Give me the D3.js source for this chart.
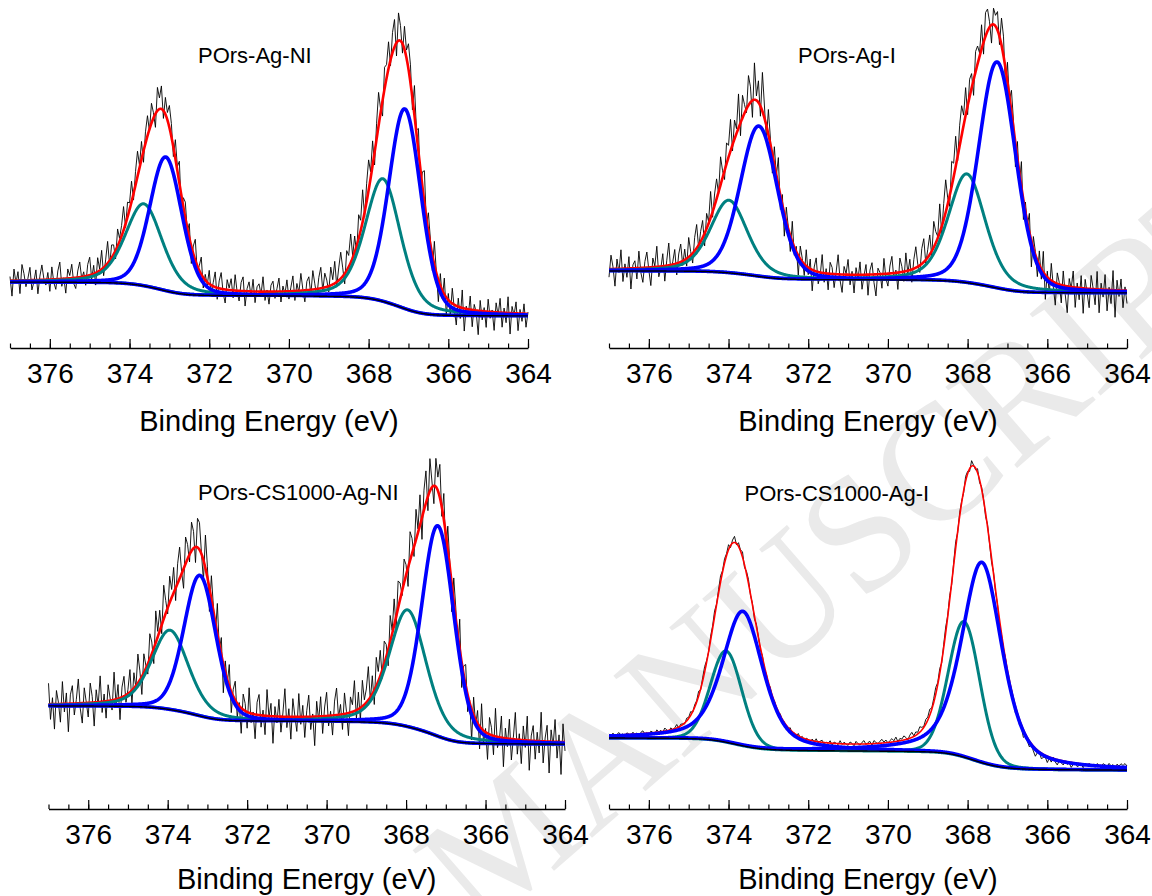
<!DOCTYPE html>
<html><head><meta charset="utf-8">
<script src="https://cdn.jsdelivr.net/npm/d3@7"></script>
<style>body{margin:0;background:#fff}svg{display:block}</style>
</head><body>
<svg id="c" width="1152" height="896"></svg>
<script>
// ---------------- DATA ----------------
const panelTitles = ["POrs-Ag-NI", "POrs-Ag-I", "POrs-CS1000-Ag-NI", "POrs-CS1000-Ag-I"];
const axisTitle = "Binding Energy (eV)";
const xDomain = [377, 364];
const majorTicks = [376, 374, 372, 370, 368, 366, 364];
const minorTicks = [377, 376.5, 376, 375.5, 375, 374.5, 374, 373.5, 373, 372.5, 372, 371.5, 371, 370.5, 370, 369.5, 369, 368.5, 368, 367.5, 367, 366.5, 366, 365.5, 365, 364.5, 364];
const watermark = "MANUSCRIPT";

// Shirley background end levels [high-BE side, low-BE side] (a.u.)
const bgLevels = [[19.5, 9.5], [22.8, 16.3], [30.5, 19.2], [21.0, 11.5]];

// fitted components per panel: [Ag 3d3/2 (teal), Ag 3d3/2 (blue), Ag 3d5/2 (teal), Ag 3d5/2 (blue)]
const peakCenters = [
  [373.64, 373.09, 367.64, 367.09],
  [373.99, 373.24, 368.02, 367.26],
  [373.94, 373.19, 367.96, 367.20],
  [374.06, 373.64, 368.09, 367.64]
];
const peakHeights = [
  [24.3, 39.6, 36.3, 59.1],
  [21.5, 44.5, 32.2, 66.9],
  [23.5, 41.6, 34.6, 62.3],
  [27.0, 39.8, 40.1, 59.3]
];
const peakFwhm = [
  [1.1, 0.95, 1.05, 0.95],
  [1.1, 1.1, 1.1, 1.1],
  [1.1, 0.95, 1.1, 0.95],
  [0.93, 1.2, 0.93, 1.2]
];
const peakLorentz = [
  [0.4, 0.2, 0.4, 0.2],
  [0.4, 0.2, 0.4, 0.2],
  [0.4, 0.2, 0.4, 0.2],
  [0.1, 0.5, 0.1, 0.5]
];

// raw spectra: residuals (a.u.) from the fit envelope, 377 -> 364 eV in 0.05 eV steps
const rawStart = 377, rawStep = 0.05;
const rawResid1 = [
 1.2,-4.6,3.4,-0.8,2.6,-3.9,4.7,2.0,-1.9,0.6,3.8,-2.9,-0.5,3.0,-4.1,1.1,4.4,0.3,-1.6,2.1,
 -3.5,3.7,-1.0,-3.0,2.4,5.0,-2.2,0.3,-4.3,2.8,0.8,4.1,-1.7,-3.2,1.9,4.5,-0.6,1.4,-2.7,3.3,
 5.3,-1.3,2.5,-3.6,4.2,0.5,5.6,-2.4,1.7,6.5,-1.4,3.8,2.8,-2.5,5.1,0.9,3.1,7.0,-1.1,4.4,
 2.0,6.1,-1.9,4.0,7.5,0.8,5.3,-3.3,3.4,6.0,-0.6,5.9,1.6,-4.0,6.9,3.3,6.8,-2.3,5.0,2.2,
 6.5,3.9,-2.8,5.6,1.2,6.4,-4.5,2.7,4.7,-0.9,4.2,-5.1,2.3,6.2,-1.9,1.4,5.1,-3.1,1.7,-0.8,
 4.0,-2.5,1.1,4.5,-3.4,2.2,4.8,-1.2,-4.0,3.0,0.6,3.4,-2.2,4.7,-0.3,-3.0,2.5,4.2,-4.4,0.8,
 2.8,-1.6,3.6,-3.3,1.4,2.3,-0.9,4.4,-2.6,0.5,-3.7,1.9,3.1,-2.0,0.9,4.0,-3.1,1.6,-0.8,3.4,
 -2.3,1.2,4.5,-2.8,2.2,-0.5,5.1,0.3,-3.4,2.6,3.9,-1.4,5.6,1.6,-2.2,3.3,6.2,-0.9,4.2,2.0,
 -1.7,5.4,1.4,6.5,-1.2,3.7,7.8,2.5,-3.0,5.9,3.4,8.5,0.5,4.8,-2.3,7.1,3.1,9.5,-1.4,5.3,
 9.0,1.9,7.3,-3.7,4.7,9.9,1.2,-4.6,6.4,4.0,7.9,-1.7,6.0,8.1,-3.9,8.2,4.5,-2.8,6.8,2.3,
 7.5,5.3,-3.4,8.8,0.9,6.7,-5.6,4.3,9.5,-2.0,5.7,1.6,-4.5,7.0,0.3,-6.4,3.6,-2.5,4.8,-5.3,
 1.9,-3.9,4.5,-1.2,-5.7,2.5,-3.3,5.3,-6.7,0.8,-2.2,4.0,-5.0,1.7,-0.5,-7.1,3.1,-2.6,1.1,-4.7,
 3.7,-1.9,0.6,-5.4,2.8,-0.9,4.2,-4.3,1.4,-2.9,4.8,-6.2,2.0,-0.6,3.4,-5.1,1.2,-2.3,2.9,-4.0,
 0.5];
const rawResid2 = [
 -2.4,4.1,0.6,-5.1,2.9,-1.1,5.6,-3.8,1.4,-2.6,3.5,-6.1,1.0,2.2,-3.2,5.0,-1.4,-4.3,1.8,4.6,
 -0.8,-5.4,2.7,0.3,6.1,-3.0,-0.6,3.7,-4.5,1.6,6.6,-1.9,0.8,4.3,-3.4,2.6,5.3,-1.3,3.2,-2.2,
 5.8,1.1,-2.9,4.0,7.0,-1.0,3.0,5.1,-3.7,4.5,0.6,7.8,-1.6,3.4,5.9,-0.5,8.3,2.1,-2.6,6.2,
 3.5,9.3,-1.8,5.6,1.4,10.1,-3.8,6.7,2.6,-1.1,8.8,4.6,-5.0,10.9,1.3,6.4,-3.0,11.5,3.8,-4.3,
 7.4,1.8,-5.6,5.3,-0.3,8.2,-4.2,3.0,-6.7,4.3,0.5,-4.6,6.1,-2.4,1.6,-5.8,3.8,1.0,-3.4,4.8,
 -2.1,2.9,-6.2,1.1,4.0,-3.5,-1.0,5.4,-2.7,1.4,-4.8,3.4,1.9,-4.0,0.6,5.8,-1.8,-5.3,2.4,0.3,
 4.5,-3.0,1.0,-5.4,2.1,-1.3,3.8,-4.3,-0.3,3.0,-6.1,1.3,3.5,-2.4,-6.4,1.8,0.5,-4.2,4.6,-1.4,
 -3.7,2.2,5.0,-1.9,0.8,-5.0,4.2,1.6,-2.9,5.4,-0.8,3.2,-3.8,2.7,6.2,0.6,-2.1,4.5,6.9,-1.0,
 2.4,5.8,-1.4,7.7,3.4,0.5,8.5,-2.2,4.8,9.6,1.9,-3.2,7.4,4.0,9.0,-1.3,6.1,8.8,3.0,8.2,
 -2.6,5.2,4.3,-4.6,6.0,5.3,1.0,7.2,-3.5,7.0,6.5,1.6,-5.4,4.8,3.2,5.5,-2.4,8.0,5.8,-6.1,
 5.8,-1.1,6.4,2.2,-7.0,5.0,-3.2,7.5,-5.8,2.9,-0.8,5.6,-7.7,3.5,1.0,-4.8,4.2,-3.0,6.2,-7.2,
 1.8,-4.3,5.1,-1.4,-6.6,3.2,0.6,-5.3,4.3,-2.6,-7.8,2.4,-0.5,4.8,-5.9,1.4,-3.5,3.7,-7.4,2.7,
 -1.3,-5.6,4.0,0.2,-4.6,5.3,-6.9,1.9,-2.2,4.5,-6.2,0.8,-4.0,5.8,-8.0,3.0,-1.8,3.4,-5.1,1.1,
 -3.8];
const rawResid3 = [
 6.2,-4.5,1.9,-7.4,4.0,0.5,-5.4,6.6,-2.4,3.2,-8.3,2.6,5.3,-3.4,1.1,7.2,-1.6,-5.9,4.5,0.3,
 -4.2,5.8,1.8,-7.0,3.7,-1.0,7.7,-3.2,2.2,-5.0,4.8,0.8,-2.9,8.2,-1.4,4.2,-6.4,3.0,5.9,-2.1,
 1.3,6.7,-4.0,4.6,-0.6,8.6,2.7,-5.3,5.6,1.0,-3.0,7.5,3.5,-4.5,9.4,1.6,6.1,-2.6,10.0,3.8,
 -1.8,7.8,2.4,7.5,-3.7,5.8,9.3,0.6,-5.8,7.9,4.3,-2.2,8.5,5.0,-4.6,8.6,8.0,0.3,-6.1,9.8,
 3.2,-6.9,7.0,1.4,-3.8,9.0,-1.6,5.1,-8.5,3.4,-1.1,6.4,-6.2,2.1,5.6,-4.2,1.0,-7.5,4.6,2.2,
 -4.8,7.4,-2.7,0.6,-7.2,3.7,6.1,-3.5,1.6,-5.6,7.8,-0.5,3.8,-8.0,2.9,-1.9,5.1,-4.6,1.1,8.3,
 -3.2,2.4,-6.6,5.4,0.3,-4.3,6.9,-2.2,3.4,-6.1,1.8,6.4,-3.8,0.8,-8.6,4.5,-1.3,5.8,-5.1,2.7,
 7.0,-3.0,1.3,-5.8,4.2,8.0,-0.8,3.0,-4.5,6.2,0.6,-6.7,4.6,2.1,9.0,-2.6,5.0,-3.7,7.7,1.4,
 4.0,9.9,-1.1,5.4,-4.2,8.5,2.9,7.6,-2.4,6.7,3.7,-4.8,7.8,1.0,7.8,-3.4,8.0,4.8,-1.4,7.0,
 3.0,-5.6,8.5,4.5,-2.9,9.0,1.1,9.0,-6.4,5.9,9.5,-4.2,9.6,1.9,-5.3,8.4,4.0,9.8,-2.7,7.7,
 -6.2,7.0,1.3,-8.2,6.9,3.2,-4.5,8.8,-7.4,2.6,6.2,-5.0,0.8,-9.0,5.3,-1.6,3.8,-6.7,7.4,-3.7,
 1.1,-7.7,5.0,2.2,-5.6,8.3,-3.2,-0.6,6.4,-8.5,3.0,-2.4,5.8,-6.2,0.5,8.0,-4.3,1.8,-7.0,4.2,
 -2.1,7.2,-8.8,1.4,4.5,-5.4,2.6,-3.5,8.6,-6.4,1.0,4.8,-9.3,3.5,-1.3,6.6,-4.8,2.1,-9.6,5.4,
 -2.6];
const rawResid4 = [
 0.4,-0.3,0.6,-0.5,0.2,0.7,-0.2,0.3,-0.6,0.5,0.1,-0.4,0.6,-0.1,0.3,-0.5,0.4,0.8,-0.2,0.2,
 -0.4,0.5,0.1,-0.6,0.7,0.0,0.4,-0.3,0.9,0.2,-0.5,0.6,-0.1,0.3,1.0,-0.4,0.5,0.2,-0.3,0.8,
 0.3,1.1,-0.2,0.7,0.4,1.4,-0.3,0.9,1.6,0.5,-0.1,1.2,0.8,1.7,0.2,1.0,1.9,0.4,1.3,0.6,
 1.5,-0.6,0.9,1.8,-0.4,1.1,0.3,1.6,-0.8,0.7,1.2,-0.3,0.4,-1.0,0.8,0.1,-0.7,0.5,-0.9,0.2,
 -0.5,0.6,-1.2,0.3,-0.4,-1.0,0.5,-0.7,0.2,-1.3,-0.2,0.6,-0.9,0.1,-0.5,0.7,-0.3,0.4,-0.8,0.3,
 0.1,-0.6,0.5,-0.2,0.8,-0.4,0.3,0.6,-0.5,0.2,-0.1,0.7,-0.6,0.4,0.1,-0.3,0.9,-0.2,0.5,0.0,
 -0.4,0.6,0.2,-0.5,0.8,0.1,-0.3,0.5,1.0,-0.2,0.4,0.7,-0.5,0.9,0.3,-0.1,0.6,1.1,0.2,0.8,
 -0.2,0.5,1.0,0.3,1.3,-0.1,0.7,0.4,1.2,0.6,-0.3,0.9,1.5,0.2,1.0,0.5,1.6,0.8,0.3,1.4,
 0.9,1.8,0.4,1.2,2.0,0.6,1.5,-0.4,1.0,1.7,0.3,1.3,-0.5,0.8,1.9,-0.2,1.1,0.5,-0.6,1.4,
 0.7,-0.8,1.6,0.2,-0.5,1.2,-0.9,0.6,0.3,-1.1,0.8,-0.4,-1.3,0.5,-0.7,0.1,-1.5,-0.3,-1.0,0.4,
 -1.4,-0.6,0.2,-1.2,-2.0,-0.4,-1.6,-0.9,-2.3,-0.5,-1.1,-1.8,-0.3,-1.5,-2.4,-0.8,-0.2,-1.7,-1.0,-0.6,
 -1.9,-0.4,-1.3,0.3,-0.9,-1.6,-0.2,-0.7,-1.2,0.1,-0.8,-0.3,-1.5,-0.5,0.2,-1.0,-0.6,-0.1,-1.1,0.0,
 -0.5,0.4,-0.3,0.2,-0.7,0.5,0.1,-0.4,0.6,0.3,-0.2,0.8,0.1,0.5,-0.3,0.7,0.2,0.9,0.4,1.0,
 0.3];
const rawResiduals = [rawResid1, rawResid2, rawResid3, rawResid4];

// ---------------- LAYOUT / STYLE ----------------
const panels = [
  {x0: 10,   x1: 528,  axisY: 348, titleX: 198,   titleY: 63},
  {x0: 609,  x1: 1127, axisY: 348, titleX: 798,   titleY: 63},
  {x0: 48.5, x1: 565,  axisY: 809, titleX: 198,   titleY: 500},
  {x0: 609,  x1: 1127, axisY: 809, titleX: 744.5, titleY: 501}
];
const plotH = 338;
const compColors = ["#008080", "#0000ff", "#008080", "#0000ff"];
const compWidths = [3, 3.6, 3, 3.6];
const envWidths = [2.6, 2.6, 2.6, 1.6];
const FONT = "Arial, 'Liberation Sans', sans-serif";

const svg = d3.select("#c");

svg.append("text")
  .attr("transform", "translate(480,935) rotate(-41)")
  .attr("font-family", "'Liberation Serif', 'Times New Roman', serif")
  .attr("font-size", 165)
  .attr("fill", "#eaeaea")
  .text(watermark);

function pv(E, c, h, w, m) {
  const t = (E - c) / w;
  return h * ((1 - m) * Math.exp(-4 * Math.LN2 * t * t) + m / (1 + 4 * t * t));
}

panels.forEach((P, pi) => {
  const g = svg.append("g");
  const x = d3.scaleLinear().domain(xDomain).range([P.x0, P.x1]);
  const y = d3.scaleLinear().domain([0, 100]).range([P.axisY, P.axisY - plotH]);

  const n = 1300;
  const grid = d3.range(n + 1).map(i => 364 + i * 0.01);
  const comps = peakCenters[pi].map((c, k) => grid.map(E => pv(E, c, peakHeights[pi][k], peakFwhm[pi][k], peakLorentz[pi][k])));
  const sum = grid.map((E, i) => d3.sum(comps, cc => cc[i]));
  const cum = [0];
  for (let i = 1; i <= n; i++) cum.push(cum[i - 1] + (sum[i] + sum[i - 1]) / 2 * 0.01);
  const [L, R] = bgLevels[pi];
  const bg = cum.map(a => R + (L - R) * a / cum[n]);
  const env = sum.map((s, i) => s + bg[i]);

  const line = d3.line().x(d => x(d[0])).y(d => y(d[1]));

  // raw data underneath the fit curves
  const res = rawResiduals[pi];
  const raw = res.map((r, i) => {
    const E = rawStart - i * rawStep;
    const gi = Math.round((E - 364) / 0.01);
    return [E, env[gi] + r];
  });
  g.append("path").attr("d", line(raw)).attr("fill", "none").attr("stroke", "#000").attr("stroke-width", 0.9);

  g.append("path").attr("d", line(grid.map((E, i) => [E, env[i]]))).attr("fill", "none").attr("stroke", "#ff0000").attr("stroke-width", envWidths[pi]);
  [0, 2, 1, 3].forEach(k => {
    g.append("path").attr("d", line(grid.map((E, i) => [E, comps[k][i] + bg[i]])))
      .attr("fill", "none").attr("stroke", compColors[k]).attr("stroke-width", compWidths[k]).attr("stroke-linejoin", "round");
  });
  g.append("path").attr("d", line(grid.map((E, i) => [E, bg[i]]))).attr("fill", "none").attr("stroke", "#000").attr("stroke-width", 1.4);

  const minor = g.append("g").attr("transform", `translate(0,${P.axisY})`)
    .call(d3.axisBottom(x).tickValues(minorTicks).tickSizeInner(-4.5).tickSizeOuter(0).tickFormat(""));
  minor.select(".domain").remove();
  minor.selectAll("line").attr("stroke-width", 1.2);
  const major = g.append("g").attr("transform", `translate(0,${P.axisY})`)
    .call(d3.axisBottom(x).tickValues(majorTicks).tickSizeInner(-9).tickSizeOuter(0).tickPadding(15).tickFormat(d3.format("d")));
  major.select(".domain").attr("stroke-width", 1.4);
  major.selectAll("line").attr("stroke-width", 1.2);
  major.selectAll("text").attr("font-family", FONT).attr("font-size", 28).attr("fill", "#000");

  g.append("text").attr("x", (P.x0 + P.x1) / 2).attr("y", P.axisY + (pi < 2 ? 83 : 80))
    .attr("text-anchor", "middle").attr("font-family", FONT).attr("font-size", 29).text(axisTitle);
  g.append("text").attr("x", P.titleX).attr("y", P.titleY)
    .attr("font-family", FONT).attr("font-size", 22).text(panelTitles[pi]);
});
</script>
</body></html>
